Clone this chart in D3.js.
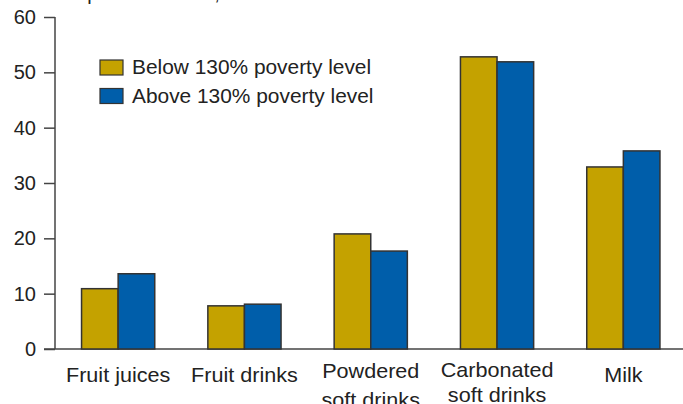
<!DOCTYPE html>
<html>
<head>
<meta charset="utf-8">
<script src="https://cdnjs.cloudflare.com/ajax/libs/d3/7.8.5/d3.min.js"></script>
<style>
  body { margin: 0; background: #fff; }
  svg { display: block; font-family: "Liberation Sans", Arial, sans-serif; }
  .axis path, .axis line { stroke: #444; stroke-width: 1.5; }
  .axis text { fill: #222; font-size: 20px; }
  .label { fill: #222; font-size: 20px; }
</style>
</head>
<body>
<svg></svg>
<script>
var categories = ["Fruit juices", "Fruit drinks", "Powdered soft drinks", "Carbonated soft drinks", "Milk"];
var tickLines = [["Fruit juices"], ["Fruit drinks"], ["Powdered", "soft drinks"], ["Carbonated", "soft drinks"], ["Milk"]];
var series = ["Below 130% poverty level", "Above 130% poverty level"];
var below = [10.9, 7.8, 20.8, 52.8, 32.9];
var above = [13.6, 8.1, 17.7, 51.9, 35.8];
var yTicks = [0, 10, 20, 30, 40, 50, 60];
var colors = ["#c4a200", "#005eaa"];

drawChart();

function drawChart()
{
  var width = 683,
      height = 404;

  var svg = d3.select("svg")
    .attr("width", width)
    .attr("height", height);

  var xscale = d3.scaleBand()
    .domain(categories)
    .range([55, 686.5]);

  var barWidth = 36.6;
  var inner = d3.scaleBand()
    .domain(series)
    .range([-barWidth, barWidth]);

  var yscale = d3.scaleLinear()
    .domain([0, 60])
    .range([349, 17]);

  //title, mostly cut off at the top edge
  svg.append("text")
    .attr("class", "label")
    .attr("x", 14)
    .attr("y", -0.5)
    .text("Gallons per household, 1999");

  //Y axis
  var yaxis = d3.axisLeft(yscale)
    .tickValues(yTicks)
    .tickSize(11)
    .tickPadding(8);

  svg.append("g")
    .attr("class", "axis")
    .attr("transform", "translate(55,0)")
    .call(yaxis)
    .call(function(g){ g.select(".domain").attr("d", "M0,17V349"); });

  //baseline
  svg.append("line")
    .attr("x1", 44)
    .attr("x2", width)
    .attr("y1", yscale(0))
    .attr("y2", yscale(0))
    .attr("stroke", "#444")
    .attr("stroke-width", 1.5);

  //Bars
  var rows = categories.map(function(c, i){
    return { cat: c, vals: [below[i], above[i]] };
  });

  var groups = svg.append("g")
    .selectAll("g")
    .data(rows)
    .enter()
    .append("g")
    .attr("transform", function(d){ return "translate(" + (xscale(d.cat) + xscale.bandwidth() / 2) + ",0)"; });

  groups.selectAll("rect")
    .data(function(d){ return d.vals.map(function(v, j){ return { s: series[j], v: v, j: j }; }); })
    .enter()
    .append("rect")
    .attr("x", function(d){ return inner(d.s); })
    .attr("y", function(d){ return yscale(d.v); })
    .attr("width", inner.bandwidth())
    .attr("height", function(d){ return yscale(0) - yscale(d.v); })
    .attr("fill", function(d){ return colors[d.j]; })
    .attr("stroke", "#333")
    .attr("stroke-width", 1.5);

  //category labels
  var firstBaseline = [382, 382, 378, 377, 382];
  var lineGap = [26, 26, 29, 25, 26];
  categories.forEach(function(c, i){
    var t = svg.append("text")
      .attr("class", "label")
      .attr("text-anchor", "middle")
      .attr("transform", "translate(" + (xscale(c) + xscale.bandwidth() / 2) + ",0) scale(1.08,1)");
    tickLines[i].forEach(function(line, k){
      t.append("tspan")
        .attr("x", 0)
        .attr("y", firstBaseline[i] + k * lineGap[i])
        .text(line);
    });
  });

  //Legend
  var legend = svg.append("g")
    .attr("transform", "translate(100,60)");

  var items = legend.selectAll("g")
    .data(series)
    .enter()
    .append("g")
    .attr("transform", function(d, i){ return "translate(0," + (i * 28.5) + ")"; });

  items.append("rect")
    .attr("width", 23)
    .attr("height", 15)
    .attr("fill", function(d, i){ return colors[i]; })
    .attr("stroke", "#333")
    .attr("stroke-width", 1.2);

  items.append("text")
    .attr("class", "label")
    .attr("x", 32)
    .attr("y", 14)
    .attr("transform", "translate(32,0) scale(1.045,1) translate(-32,0)")
    .text(function(d){ return d; });
}
</script>
</body>
</html>
